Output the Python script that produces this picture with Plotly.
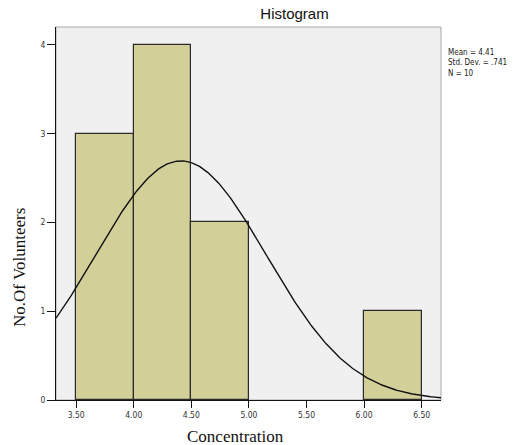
import numpy as np
import plotly.graph_objects as go

bin_left = [3.5, 4.0, 4.5, 6.0]
bin_right = [4.0, 4.5, 5.0, 6.5]
counts = [3, 4, 2, 1]
mean = 4.41
sd = 0.741
n = 10
bin_width = 0.5
x_ticks = [3.5, 4.0, 4.5, 5.0, 5.5, 6.0, 6.5]
x_tick_labels = ["3.50", "4.00", "4.50", "5.00", "5.50", "6.00", "6.50"]
y_ticks = [0, 1, 2, 3, 4]

x_range = [3.325, 6.668]
y_range = [0, 4.2]

W, H = 517, 445
L, R, T, B = 56, 76, 27, 45
PW, PH = W - L - R, H - T - B

centers = [(a + b) / 2 for a, b in zip(bin_left, bin_right)]
widths = [b - a for a, b in zip(bin_left, bin_right)]

small = "Liberation Sans Narrow, DejaVu Sans Condensed, Arial"
serif = "Liberation Serif, Times New Roman, serif"

fig = go.Figure()
fig.add_trace(go.Bar(
    x=centers, y=counts, width=widths,
    marker=dict(color="#d3cf98", line=dict(color="#2a2a2a", width=1.2)),
    hoverinfo="skip",
))

xs = np.linspace(x_range[0], x_range[1], 300)
ys = n * bin_width / (sd * np.sqrt(2 * np.pi)) * np.exp(-0.5 * ((xs - mean) / sd) ** 2)
fig.add_trace(go.Scatter(x=xs, y=ys, mode="lines",
                         line=dict(color="#111111", width=1.4), hoverinfo="skip"))

fig.update_layout(
    width=W, height=H,
    margin=dict(l=L, r=R, t=T, b=B),
    paper_bgcolor="white", plot_bgcolor="#f0f0f0",
    showlegend=False, bargap=0,
    font=dict(family="Arial, Liberation Sans", color="#222"),
    title=dict(text="Histogram", x=294.5 / W, xanchor="center", y=1 - 14 / H, yanchor="middle",
               pad=dict(t=0, b=0),
               font=dict(size=15, family="Arial, Liberation Sans", color="#111")),
    shapes=[dict(type="rect", xref="paper", yref="paper", x0=0, y0=0, x1=1, y1=1,
                 line=dict(color="#a8a8a8", width=1), layer="below")],
    annotations=[
        dict(text="Mean = 4.41<br>Std. Dev. = .741<br>N = 10",
             xref="paper", yref="paper", x=(446 - L) / PW, y=1 - (46 - T) / PH,
             xanchor="left", yanchor="top", showarrow=False, align="left",
             font=dict(size=8, family=small, color="#222")),
        dict(text="Concentration", xref="paper", yref="paper",
             x=(235.5 - L) / PW, y=-(436 - (H - B)) / PH, xanchor="center", yanchor="middle",
             showarrow=False, font=dict(size=17, family=serif, color="#111")),
        dict(text="No.Of Volunteers", xref="paper", yref="paper", textangle=-90,
             x=-(L - 19) / PW, y=1 - (268 - T) / PH, xanchor="center", yanchor="middle",
             showarrow=False, font=dict(size=17, family=serif, color="#111")),
    ],
)
fig.update_xaxes(
    range=x_range, tickvals=x_ticks, ticktext=x_tick_labels,
    ticks="outside", ticklen=7, tickcolor="#111", showgrid=False, zeroline=False,
    showline=True, linecolor="#111", linewidth=1,
    tickfont=dict(size=8.5, family=small, color="#333"),
)
fig.update_yaxes(
    range=y_range, tickvals=y_ticks,
    ticks="outside", ticklen=8, tickcolor="#111", showgrid=False, zeroline=False,
    showline=True, linecolor="#111", linewidth=1,
    tickfont=dict(size=8.5, family=small, color="#333"),
)

fig.write_html("out.html", config={"displayModeBar": False},
               post_script="document.body.style.margin='0';document.body.style.overflow='hidden';")
